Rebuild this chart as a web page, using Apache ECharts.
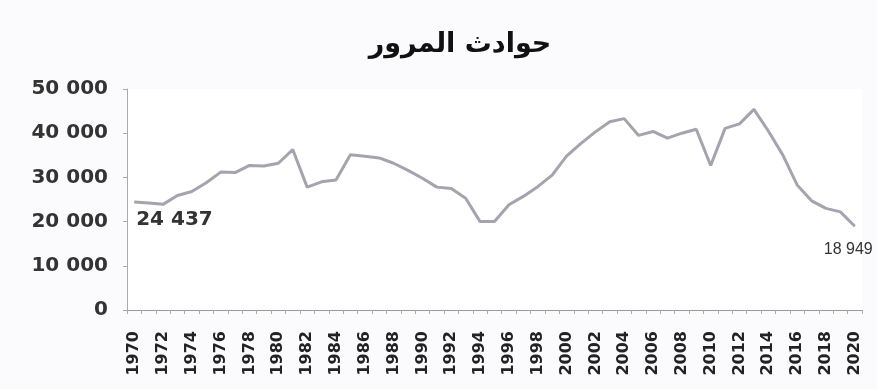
<!DOCTYPE html>
<html>
<head>
<meta charset="utf-8">
<script src="https://cdn.jsdelivr.net/npm/echarts@6/dist/echarts.min.js"></script>
<style>html,body{margin:0;padding:0;background:#fbfafc;}#c{width:877px;height:389px;}</style>
</head>
<body>
<div id="c"></div>
<script>
var titleText = 'حوادث المرور';
var years = [];
for (var y = 1970; y <= 2020; y++) years.push(String(y));
var accidents = [
  24437, 24200, 23900, 25900, 26800, 28800, 31200, 31100, 32700, 32600,
  33200, 36300, 27800, 29000, 29400, 35100, 34800, 34400, 33200, 31600,
  29800, 27800, 27500, 25300, 20000, 20000, 23800, 25700, 27900, 30500,
  34800, 37700, 40300, 42600, 43300, 39500, 40400, 38900, 40000, 40900,
  32700, 41100, 42100, 45400, 40500, 35100, 28300, 24700, 23000, 22200,
  18949
];
var yTicks = [0, 10000, 20000, 30000, 40000, 50000];

function fmt(v) { return String(v).replace(/\B(?=(\d{3})+(?!\d))/g, ' '); }

var seriesData = accidents.map(function (v, i) {
  if (i === 0) {
    return { value: v, label: { show: true, position: [2, 8], formatter: fmt(v),
      fontFamily: 'DejaVu Sans', fontWeight: 'bold', fontSize: 20, color: '#333' } };
  }
  if (i === accidents.length - 1) {
    return { value: v, label: { show: true, position: [-31, 15], formatter: fmt(v),
      fontFamily: 'Liberation Sans', fontWeight: 'normal', fontSize: 16, color: '#333' } };
  }
  return v;
});

var chart = echarts.init(document.getElementById('c'));
chart.setOption({
  backgroundColor: '#fbfafc',
  animation: false,
  title: {
    text: titleText, left: 455, top: 26, textAlign: 'center',
    textStyle: { fontFamily: 'DejaVu Sans', fontWeight: 'bold', fontSize: 27, color: '#111' }
  },
  grid: { left: 127, right: 15, top: 89, bottom: 79, show: true, backgroundColor: '#ffffff', borderWidth: 0 },
  xAxis: {
    type: 'category', data: years, boundaryGap: true,
    axisLine: { lineStyle: { color: '#999', width: 1 } },
    axisTick: { show: true, length: 4, interval: 0, lineStyle: { color: '#aaa' } },
    axisLabel: { interval: 1, rotate: 90, margin: 21, fontFamily: 'DejaVu Sans', fontWeight: 'bold',
      fontSize: 16, color: '#222' }
  },
  yAxis: {
    type: 'value', min: yTicks[0], max: yTicks[yTicks.length - 1], interval: yTicks[1] - yTicks[0],
    axisLine: { show: true, lineStyle: { color: '#aaa', width: 1 } },
    axisTick: { show: true, length: 4, lineStyle: { color: '#aaa' } },
    splitLine: { show: false },
    axisLabel: { margin: 19, formatter: function (v) { return fmt(v); }, fontFamily: 'DejaVu Sans',
      fontWeight: 'bold', fontSize: 20, color: '#333' }
  },
  series: [{
    type: 'line', data: seriesData, symbol: 'circle', symbolSize: 0, showSymbol: true,
    itemStyle: { color: 'rgba(0,0,0,0)' },
    lineStyle: { color: '#a5a4ae', width: 3 }
  }]
});
</script>
</body>
</html>
